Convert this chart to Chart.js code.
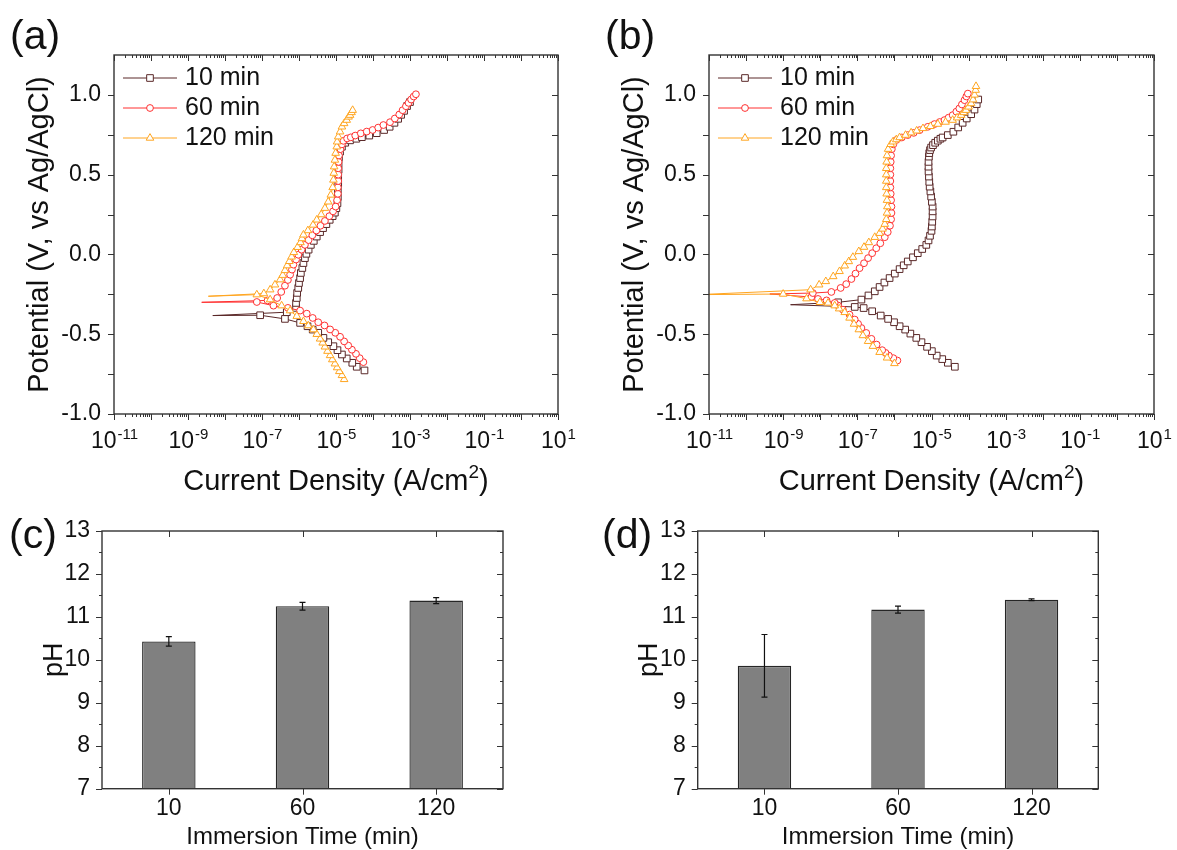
<!DOCTYPE html>
<html>
<head>
<meta charset="utf-8">
<title>Polarization curves and pH</title>
<script src="https://cdn.jsdelivr.net/npm/chart.js@4.4.1/dist/chart.umd.min.js"></script>
<style>
  body {
    margin: 0;
    width: 1177px;
    height: 850px;
    overflow: hidden;
    position: relative;
    background: #fff;
    font-family: "Liberation Sans", Arial, sans-serif;
  }
  canvas { position: absolute; }
  .tag {
    position: absolute;
    font-size: 41px;
    line-height: 41px;
    color: #111;
  }
</style>
</head>
<body>
<canvas id="chart-a" width="590" height="500" style="left:0;top:0"></canvas>
<canvas id="chart-b" width="587" height="500" style="left:590px;top:0"></canvas>
<canvas id="chart-c" width="590" height="360" style="left:0;top:500px"></canvas>
<canvas id="chart-d" width="587" height="360" style="left:590px;top:500px"></canvas>
<div class="tag" style="left:10px;top:15px">(a)</div>
<div class="tag" style="left:605px;top:15px">(b)</div>
<div class="tag" style="left:9px;top:514px">(c)</div>
<div class="tag" style="left:602px;top:514px">(d)</div>
<script>
// [potential (V), log10 current density (A/cm2)] - cathodic branch, Ecorr tail, anodic branch
const a10Cath = [[-0.727,-4.23],[-0.704,-4.44],[-0.679,-4.56],[-0.652,-4.71],[-0.627,-4.84],[-0.600,-4.96],[-0.575,-5.07],[-0.550,-5.21],[-0.523,-5.34],[-0.491,-5.48],[-0.471,-5.63],[-0.450,-5.77],[-0.429,-5.97],[-0.404,-6.38],[-0.381,-7.05]];
const a10Tail = [-0.383,-8.33];
const a10Anod = [[-0.362,-6.33],[-0.335,-6.08],[-0.304,-6.08],[-0.273,-6.06],[-0.241,-6.05],[-0.210,-6.02],[-0.179,-6.00],[-0.148,-5.97],[-0.116,-5.95],[-0.085,-5.91],[-0.054,-5.88],[-0.023,-5.84],[0.004,-5.80],[0.030,-5.74],[0.060,-5.68],[0.085,-5.60],[0.112,-5.52],[0.140,-5.43],[0.165,-5.35],[0.190,-5.26],[0.217,-5.17],[0.240,-5.09],[0.262,-5.03],[0.290,-4.99],[0.321,-4.96],[0.360,-4.95],[0.404,-4.95],[0.445,-4.94],[0.488,-4.94],[0.530,-4.93],[0.571,-4.93],[0.610,-4.92],[0.644,-4.89],[0.675,-4.84],[0.700,-4.75],[0.715,-4.62],[0.725,-4.45],[0.735,-4.30],[0.745,-4.10],[0.760,-3.90],[0.780,-3.70],[0.800,-3.55],[0.825,-3.42],[0.850,-3.32],[0.875,-3.24],[0.900,-3.16],[0.930,-3.08],[0.955,-3.00]];

const a60Cath = [[-0.675,-4.26],[-0.650,-4.36],[-0.623,-4.46],[-0.597,-4.57],[-0.571,-4.67],[-0.545,-4.78],[-0.516,-4.89],[-0.491,-5.02],[-0.470,-5.16],[-0.445,-5.31],[-0.425,-5.48],[-0.398,-5.63],[-0.371,-5.79],[-0.352,-5.97],[-0.335,-6.30],[-0.321,-6.69],[-0.298,-7.14]];
const a60Tail = [-0.300,-8.63];
const a60Anod = [[-0.288,-6.85],[-0.273,-6.59],[-0.235,-6.48],[-0.196,-6.38],[-0.160,-6.30],[-0.127,-6.24],[-0.095,-6.19],[-0.064,-6.15],[-0.032,-6.08],[-0.002,-6.02],[0.030,-5.93],[0.060,-5.84],[0.090,-5.74],[0.120,-5.64],[0.150,-5.53],[0.180,-5.42],[0.210,-5.30],[0.240,-5.18],[0.270,-5.08],[0.300,-5.01],[0.340,-4.97],[0.380,-4.95],[0.420,-4.95],[0.460,-4.94],[0.500,-4.94],[0.540,-4.94],[0.580,-4.93],[0.620,-4.92],[0.660,-4.88],[0.690,-4.84],[0.712,-4.80],[0.727,-4.70],[0.734,-4.60],[0.745,-4.48],[0.759,-4.33],[0.770,-4.17],[0.780,-4.01],[0.795,-3.86],[0.811,-3.72],[0.829,-3.54],[0.852,-3.41],[0.877,-3.29],[0.904,-3.20],[0.929,-3.11],[0.950,-3.04],[0.971,-2.97],[0.990,-2.90],[1.004,-2.84]];

const a120Cath = [[-0.783,-4.78],[-0.758,-4.84],[-0.733,-4.91],[-0.709,-4.97],[-0.685,-5.03],[-0.659,-5.10],[-0.633,-5.16],[-0.606,-5.23],[-0.579,-5.30],[-0.554,-5.36],[-0.529,-5.43],[-0.500,-5.52],[-0.471,-5.61],[-0.446,-5.75],[-0.419,-5.88],[-0.387,-6.06],[-0.352,-6.24],[-0.321,-6.47],[-0.283,-6.78],[-0.252,-7.14]];
const a120Tail = [-0.262,-8.45];
const a120Anod = [[-0.245,-6.95],[-0.221,-6.78],[-0.190,-6.65],[-0.158,-6.51],[-0.130,-6.44],[-0.100,-6.38],[-0.070,-6.32],[-0.043,-6.26],[-0.015,-6.20],[0.013,-6.14],[0.045,-6.04],[0.075,-5.96],[0.100,-5.92],[0.123,-5.88],[0.150,-5.76],[0.185,-5.62],[0.217,-5.52],[0.250,-5.40],[0.290,-5.30],[0.330,-5.21],[0.373,-5.14],[0.420,-5.09],[0.467,-5.07],[0.510,-5.06],[0.550,-5.05],[0.592,-5.03],[0.635,-5.01],[0.675,-4.98],[0.706,-4.97],[0.738,-4.94],[0.769,-4.89],[0.800,-4.84],[0.821,-4.78],[0.842,-4.71],[0.862,-4.66],[0.873,-4.62],[0.890,-4.58],[0.904,-4.55]];

const b10Cath = [[-0.704,-4.37],[-0.679,-4.56],[-0.656,-4.71],[-0.634,-4.86],[-0.606,-4.99],[-0.579,-5.12],[-0.550,-5.27],[-0.523,-5.41],[-0.496,-5.57],[-0.471,-5.71],[-0.450,-5.86],[-0.425,-6.01],[-0.404,-6.17],[-0.383,-6.37],[-0.356,-6.60],[-0.336,-6.83],[-0.329,-7.07]];
const b10Tail = [-0.315,-8.80];
const b10Anod = [[-0.300,-7.52],[-0.283,-6.89],[-0.257,-6.70],[-0.231,-6.53],[-0.204,-6.40],[-0.176,-6.27],[-0.148,-6.13],[-0.120,-5.99],[-0.092,-5.86],[-0.068,-5.75],[-0.044,-5.64],[-0.018,-5.50],[0.008,-5.37],[0.034,-5.25],[0.060,-5.14],[0.088,-5.08],[0.117,-5.04],[0.148,-5.00],[0.175,-4.99],[0.205,-4.98],[0.238,-4.97],[0.270,-4.97],[0.300,-4.97],[0.330,-4.99],[0.363,-5.01],[0.395,-5.03],[0.425,-5.05],[0.455,-5.06],[0.488,-5.07],[0.520,-5.08],[0.550,-5.08],[0.580,-5.08],[0.613,-5.07],[0.635,-5.06],[0.654,-5.04],[0.670,-5.01],[0.685,-4.96],[0.700,-4.90],[0.713,-4.83],[0.725,-4.76],[0.733,-4.70],[0.748,-4.56],[0.769,-4.41],[0.796,-4.28],[0.825,-4.16],[0.852,-4.05],[0.879,-3.93],[0.908,-3.84],[0.942,-3.78],[0.971,-3.74]];

const b60Cath = [[-0.665,-5.92],[-0.650,-6.03],[-0.634,-6.15],[-0.617,-6.24],[-0.600,-6.33],[-0.565,-6.48],[-0.529,-6.62],[-0.492,-6.76],[-0.461,-6.89],[-0.435,-6.98],[-0.408,-7.07],[-0.377,-7.21],[-0.346,-7.39],[-0.320,-7.52],[-0.304,-7.61],[-0.288,-7.83],[-0.279,-8.06],[-0.267,-8.24]];
const b60Tail = [-0.248,-9.36];
const b60Anod = [[-0.242,-8.20],[-0.235,-7.70],[-0.210,-7.45],[-0.186,-7.30],[-0.154,-7.16],[-0.120,-7.05],[-0.086,-6.94],[-0.055,-6.82],[-0.023,-6.71],[0.008,-6.60],[0.039,-6.49],[0.070,-6.38],[0.108,-6.26],[0.140,-6.18],[0.180,-6.12],[0.220,-6.09],[0.260,-6.08],[0.300,-6.08],[0.340,-6.09],[0.380,-6.10],[0.420,-6.11],[0.460,-6.11],[0.500,-6.11],[0.540,-6.11],[0.580,-6.10],[0.620,-6.09],[0.660,-6.07],[0.690,-6.03],[0.717,-5.95],[0.733,-5.80],[0.748,-5.64],[0.762,-5.48],[0.779,-5.32],[0.800,-5.10],[0.817,-4.92],[0.830,-4.78],[0.842,-4.65],[0.857,-4.54],[0.873,-4.43],[0.895,-4.33],[0.915,-4.25],[0.940,-4.18],[0.967,-4.11],[0.990,-4.06],[1.008,-4.02]];

const b120Cath = [[-0.683,-6.00],[-0.648,-6.20],[-0.613,-6.40],[-0.575,-6.58],[-0.544,-6.71],[-0.508,-6.85],[-0.471,-6.96],[-0.436,-7.09],[-0.398,-7.21],[-0.363,-7.34],[-0.340,-7.49],[-0.321,-7.61],[-0.304,-7.79],[-0.300,-8.01],[-0.277,-8.37],[-0.248,-9.00]];
const b120Tail = [-0.252,-11.3];
const b120Anod = [[-0.221,-8.26],[-0.190,-8.03],[-0.169,-7.85],[-0.138,-7.65],[-0.106,-7.48],[-0.071,-7.34],[-0.044,-7.23],[-0.017,-7.12],[0.019,-6.96],[0.046,-6.82],[0.075,-6.69],[0.108,-6.53],[0.133,-6.40],[0.160,-6.32],[0.190,-6.26],[0.220,-6.22],[0.260,-6.20],[0.300,-6.19],[0.340,-6.20],[0.380,-6.21],[0.420,-6.22],[0.460,-6.22],[0.500,-6.22],[0.540,-6.22],[0.580,-6.21],[0.620,-6.20],[0.660,-6.17],[0.690,-6.10],[0.706,-6.04],[0.720,-5.95],[0.733,-5.86],[0.748,-5.70],[0.763,-5.55],[0.775,-5.40],[0.790,-5.23],[0.803,-5.03],[0.817,-4.83],[0.830,-4.62],[0.842,-4.43],[0.857,-4.31],[0.873,-4.20],[0.890,-4.13],[0.904,-4.07],[0.925,-4.00],[0.946,-3.93],[0.970,-3.88],[1.000,-3.84],[1.030,-3.81],[1.054,-3.80]];

// pH bars
const immersionTimes = ["10", "60", "120"];
const phC = [10.43, 11.25, 11.38];
const phCErr = [0.11, 0.09, 0.07];
const phD = [9.86, 11.17, 11.40];
const phDErr = [0.73, 0.08, 0.02];

const seriesLabels = ["10 min", "60 min", "120 min"];
const seriesColors = ["#5a2828", "#ff3030", "#ffa520"];
const seriesMarkers = ["rect", "circle", "triangle"];
const markerRadius = [4.7, 3.4, 4.4];
const xExponents = [-11, -9, -7, -5, -3, -1, 1];

const FONT = '"Liberation Sans", Arial, sans-serif';
Chart.defaults.font.family = FONT;
Chart.defaults.color = "#111";

function buildCurve(cath, tail, anod) {
    const pts = cath.concat([tail], anod);
    return {
        points: pts.map(([e, logI]) => ({ x: Math.pow(10, logI), y: e })),
        tailIndex: cath.length,
    };
}

function drawMarker(ctx, style, r, x, y) {
    if (Chart.helpers && Chart.helpers.drawPoint) {
        Chart.helpers.drawPoint(ctx, { pointStyle: style, radius: r, borderWidth: 1, rotation: 0 }, x, y);
        return;
    }
    ctx.beginPath();
    ctx.arc(x, y, r, 0, Math.PI * 2);
    ctx.fill();
    ctx.stroke();
}

// box frame with outward ticks on left/bottom and inward ticks on top/right
function framePlugin(xTicks, yTicks, logLabels) {
    return {
        id: "frame",
        afterDraw(chart) {
            const { ctx, chartArea: a } = chart;
            const x = chart.scales.x;
            const y = chart.scales.y;
            ctx.save();
            ctx.strokeStyle = "#333";
            ctx.lineWidth = 1;
            ctx.beginPath();
            xTicks.forEach(([v, len]) => {
                const px = Math.round(x.getPixelForValue(v)) + 0.5;
                ctx.moveTo(px, a.bottom);
                ctx.lineTo(px, a.bottom + len);
                ctx.moveTo(px, a.top);
                ctx.lineTo(px, a.top + len);
            });
            yTicks.forEach(([v, len]) => {
                const py = Math.round(y.getPixelForValue(v)) + 0.5;
                ctx.moveTo(a.left - len, py);
                ctx.lineTo(a.left, py);
                ctx.moveTo(a.right - len, py);
                ctx.lineTo(a.right, py);
            });
            ctx.stroke();
            ctx.lineWidth = 1.4;
            ctx.strokeRect(a.left, a.top, a.right - a.left, a.bottom - a.top);

            if (logLabels) {
                ctx.fillStyle = "#111";
                ctx.textBaseline = "alphabetic";
                ctx.textAlign = "left";
                const base = a.bottom + 34;
                logLabels.forEach((e) => {
                    const px = x.getPixelForValue(Math.pow(10, e));
                    const exp = String(e);
                    ctx.font = "23px " + FONT;
                    const w1 = ctx.measureText("10").width;
                    ctx.font = "15px " + FONT;
                    const w2 = ctx.measureText(exp).width;
                    const start = px - (w1 + w2) / 2;
                    ctx.font = "23px " + FONT;
                    ctx.fillText("10", start, base);
                    ctx.font = "15px " + FONT;
                    ctx.fillText(exp, start + w1 + 1, base - 9);
                });

                // axis title with a real superscript
                const parts = [["Current Density (A/cm", 29, 0], ["2", 19, -12], [")", 29, 0]];
                let total = 0;
                parts.forEach((p) => {
                    ctx.font = p[1] + "px " + FONT;
                    total += ctx.measureText(p[0]).width;
                });
                let cx = (a.left + a.right) / 2 - total / 2;
                const tb = a.bottom + 76;
                parts.forEach((p) => {
                    ctx.font = p[1] + "px " + FONT;
                    ctx.fillText(p[0], cx, tb + p[2]);
                    cx += ctx.measureText(p[0]).width;
                });
            }
            ctx.restore();
        },
    };
}

function legendPlugin() {
    return {
        id: "legendBox",
        afterDraw(chart) {
            const { ctx, chartArea: a } = chart;
            ctx.save();
            seriesLabels.forEach((label, i) => {
                const yy = a.top + 23 + i * 30;
                ctx.strokeStyle = seriesColors[i];
                ctx.lineWidth = 1;
                ctx.beginPath();
                ctx.moveTo(a.left + 9, yy);
                ctx.lineTo(a.left + 63, yy);
                ctx.stroke();
                ctx.fillStyle = "#fff";
                drawMarker(ctx, seriesMarkers[i], markerRadius[i], a.left + 36, yy);
                ctx.fillStyle = "#111";
                ctx.font = "25px " + FONT;
                ctx.textBaseline = "middle";
                ctx.textAlign = "left";
                ctx.fillText(label, a.left + 71, yy);
            });
            ctx.restore();
        },
    };
}

function errorBarPlugin(values, errors) {
    return {
        id: "errorBars",
        afterDatasetsDraw(chart) {
            const { ctx } = chart;
            const y = chart.scales.y;
            const meta = chart.getDatasetMeta(0);
            ctx.save();
            ctx.strokeStyle = "#111";
            ctx.lineWidth = 1.2;
            ctx.beginPath();
            meta.data.forEach((bar, i) => {
                const top = y.getPixelForValue(values[i] + errors[i]);
                const bottom = y.getPixelForValue(values[i] - errors[i]);
                ctx.moveTo(bar.x, top);
                ctx.lineTo(bar.x, bottom);
                ctx.moveTo(bar.x - 3, top);
                ctx.lineTo(bar.x + 3, top);
                ctx.moveTo(bar.x - 3, bottom);
                ctx.lineTo(bar.x + 3, bottom);
            });
            ctx.stroke();
            ctx.restore();
        },
    };
}

// tick marks for the log current axis and the potential axis
const logTicks = [];
for (let e = -11; e <= 1; e++) {
    logTicks.push([Math.pow(10, e), 6]);
    if (e < 1) {
        for (let k = 2; k <= 9; k++) logTicks.push([k * Math.pow(10, e), 3]);
    }
}
const potentialTicks = [];
for (let v = -1; v <= 1.0001; v += 0.25) {
    potentialTicks.push([Math.round(v * 100) / 100, 6]);
}
const phTicks = [];
for (let v = 7; v <= 13; v += 0.5) {
    phTicks.push([v, Number.isInteger(v) ? 6 : 3]);
}

function polarizationChart(id, curves, yWidth, titlePad, padRight) {
    const datasets = curves.map((c, i) => ({
        label: seriesLabels[i],
        data: c.points,
        showLine: true,
        borderColor: seriesColors[i],
        borderWidth: 1,
        pointStyle: seriesMarkers[i],
        pointRadius: (ctx) => (ctx.dataIndex === c.tailIndex ? 0 : markerRadius[i]),
        pointBorderColor: seriesColors[i],
        pointBackgroundColor: "#fff",
        pointBorderWidth: 1,
        order: 3 - i,
    }));

    new Chart(document.getElementById(id), {
        type: "scatter",
        data: { datasets },
        options: {
            responsive: false,
            animation: false,
            devicePixelRatio: 1,
            layout: { padding: { left: 0, top: 55, right: padRight, bottom: 0 } },
            plugins: { legend: { display: false }, tooltip: { enabled: false } },
            scales: {
                x: {
                    type: "logarithmic",
                    min: 1e-11,
                    max: 10,
                    grid: { display: false, drawTicks: false },
                    border: { display: false },
                    ticks: { display: false },
                    afterFit: (s) => { s.height = 86; },
                },
                y: {
                    min: -1,
                    max: 1.25,
                    grid: { display: false, drawTicks: false },
                    border: { display: false },
                    ticks: {
                        stepSize: 0.5,
                        includeBounds: false,
                        padding: 13,
                        font: { size: 23 },
                        callback: (v) => Number(v).toFixed(1),
                    },
                    title: {
                        display: true,
                        text: "Potential (V, vs Ag/AgCl)",
                        font: { size: 29 },
                        padding: { top: titlePad, bottom: 0 },
                    },
                    afterFit: (s) => { s.width = yWidth; },
                },
            },
        },
        plugins: [framePlugin(logTicks, potentialTicks, xExponents), legendPlugin()],
    });
}

function phChart(id, values, errors, yWidth, titlePad, padRight) {
    new Chart(document.getElementById(id), {
        type: "bar",
        data: {
            labels: immersionTimes,
            datasets: [{
                data: values,
                backgroundColor: "#808080",
                borderColor: "#262626",
                borderWidth: 1.3,
                barPercentage: 0.4,
                categoryPercentage: 1,
            }],
        },
        options: {
            responsive: false,
            animation: false,
            devicePixelRatio: 1,
            layout: { padding: { left: 0, top: 31, right: padRight, bottom: 0 } },
            plugins: { legend: { display: false }, tooltip: { enabled: false } },
            scales: {
                x: {
                    grid: { display: false, drawTicks: false },
                    border: { display: false },
                    ticks: { padding: 6, font: { size: 23 } },
                    title: {
                        display: true,
                        text: "Immersion Time (min)",
                        font: { size: 24 },
                        padding: { top: 0, bottom: 8 },
                    },
                    afterFit: (s) => { s.height = 71.3; },
                },
                y: {
                    min: 7,
                    max: 13,
                    grid: { display: false, drawTicks: false },
                    border: { display: false },
                    ticks: { stepSize: 1, padding: 12, font: { size: 23 } },
                    title: {
                        display: true,
                        text: "pH",
                        font: { size: 27 },
                        padding: { top: titlePad, bottom: 0 },
                    },
                    afterFit: (s) => { s.width = yWidth; },
                },
            },
        },
        plugins: [
            errorBarPlugin(values, errors),
            framePlugin([[0, 6], [1, 6], [2, 6]], phTicks, null),
        ],
    });
}

polarizationChart("chart-a", [
    buildCurve(a10Cath, a10Tail, a10Anod),
    buildCurve(a60Cath, a60Tail, a60Anod),
    buildCurve(a120Cath, a120Tail, a120Anod),
], 114, 23, 32);

polarizationChart("chart-b", [
    buildCurve(b10Cath, b10Tail, b10Anod),
    buildCurve(b60Cath, b60Tail, b60Anod),
    buildCurve(b120Cath, b120Tail, b120Anod),
], 119, 28, 23);

phChart("chart-c", phC, phCErr, 102, 38, 87);
phChart("chart-d", phD, phDErr, 107.7, 43, 78.7);
</script>
</body>
</html>
